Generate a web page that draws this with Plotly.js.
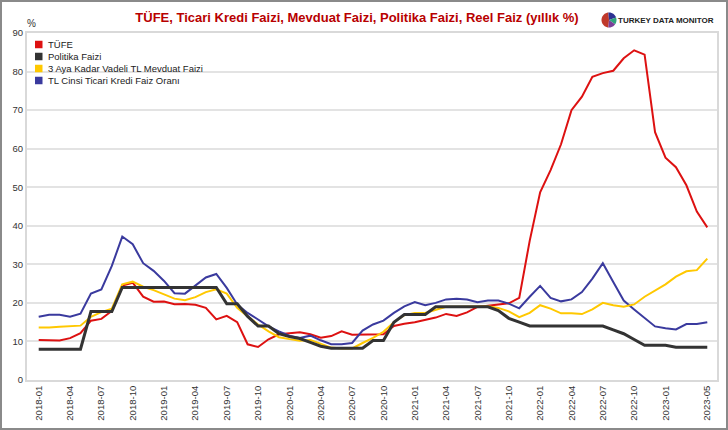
<!DOCTYPE html>
<html>
<head>
<meta charset="utf-8">
<script src="https://cdn.plot.ly/plotly-3.0.1.min.js"></script>
<style>
  body { margin: 0; background: #fff; }
  #wrap { width: 724px; height: 426px; border: 2px solid #8a8a8a; }
</style>
</head>
<body>
<div id="wrap"><div id="chart" style="width:724px;height:426px;"></div></div>
<script>
// monthly categories 2018-01 .. 2023-05
var months = [];
for (var y = 2018; y <= 2023; y++) {
  for (var m = 1; m <= 12; m++) {
    if (y == 2023 && m > 5) break;
    months.push(y + '-' + (m < 10 ? '0' + m : m));
  }
}

var tufe = [
  10.35, 10.26, 10.23, 10.85, 12.15, 15.39, 15.85, 17.90, 24.52, 25.24, 21.62, 20.30,
  20.35, 19.67, 19.71, 19.50, 18.71, 15.72, 16.65, 15.01, 9.26, 8.55, 10.56, 11.84,
  12.15, 12.37, 11.86, 10.94, 11.39, 12.62, 11.76, 11.77, 11.75, 11.89, 14.03, 14.60,
  14.97, 15.61, 16.19, 17.14, 16.59, 17.53, 18.95, 19.25, 19.58, 19.89, 21.31, 36.08,
  48.69, 54.44, 61.14, 69.97, 73.50, 78.62, 79.60, 80.21, 83.45, 85.51, 84.39, 64.27,
  57.68, 55.18, 50.51, 43.68, 39.59
];

var politika = [
  8, 8, 8, 8, 8, 17.75, 17.75, 17.75, 24, 24, 24, 24,
  24, 24, 24, 24, 24, 24, 19.75, 19.75, 16.5, 14, 14, 12,
  11.25, 10.75, 9.75, 8.75, 8.25, 8.25, 8.25, 8.25, 10.25, 10.25, 15, 17,
  17, 17, 19, 19, 19, 19, 19, 19, 18, 16, 15, 14,
  14, 14, 14, 14, 14, 14, 14, 13, 12, 10.5, 9, 9,
  9, 8.5, 8.5, 8.5, 8.5
];

var mevduat = [
  13.6, 13.6, 13.8, 13.9, 14.1, 16.4, 17.6, 18.5, 24.8, 25.5, 24.2, 23.3,
  22.2, 21.1, 20.7, 21.5, 22.8, 23.5, 22.4, 18.7, 16.5, 14.4, 12.6, 11.1,
  10.6, 10.2, 10.4, 9.4, 8.4, 8.2, 8.2, 9.6, 10.9, 12.5, 15.0, 16.8,
  17.4, 17.4, 18.1, 19.0, 19.0, 19.0, 19.0, 19.1, 18.7, 17.8, 16.3, 17.4,
  19.4, 18.5, 17.3, 17.3, 17.1, 18.3, 20.0, 19.4, 19.0, 19.6, 21.6, 23.3,
  24.8, 26.8, 28.2, 28.5, 31.5
];

var kredi = [
  16.4, 16.9, 16.9, 16.4, 17.2, 22.4, 23.5, 29.6, 37.2, 35.2, 30.3, 28.3,
  25.7, 22.5, 22.4, 24.4, 26.6, 27.5, 23.9, 19.6, 17.4, 15.7, 13.9, 12.6,
  11.5, 10.9, 11.5, 10.3, 9.3, 9.3, 9.6, 12.8, 14.4, 15.4, 17.4, 19.1,
  20.2, 19.4, 20.0, 20.9, 21.1, 20.9, 20.2, 20.6, 20.6, 19.8, 18.6, 21.6,
  24.4, 21.3, 20.4, 20.9, 22.8, 26.3, 30.3, 25.4, 20.6, 18.3, 16.1, 13.9,
  13.4, 13.1, 14.5, 14.5, 15.0
];

var seriesNames = ['TÜFE', 'Politika Faizi', '3 Aya Kadar Vadeli TL Mevduat Faizi', 'TL Cinsi Ticari Kredi Faiz Oranı'];
var seriesData = [tufe, politika, mevduat, kredi];
var colors = ['#dd1111', '#333333', '#ffc800', '#3a3a9e'];
var widths = [2, 3, 2, 2];

var tickvals = months.filter(function (d, i) { return i % 3 == 0 && i <= 60; });
tickvals.push(months[months.length - 1]);

var font = 'Arial, "Liberation Sans", sans-serif';

// draw order: red, blue, yellow, black on top
var order = [0, 3, 2, 1];
var data = order.map(function (k) {
  return {
    x: months,
    y: seriesData[k],
    name: seriesNames[k],
    type: 'scatter',
    mode: 'lines',
    line: {color: colors[k], width: widths[k]},
    hoverinfo: 'x+y+name'
  };
});

// plot area in pixels (inside the 724x426 plot div)
var L = 25, T = 31, W = 690, H = 347;
function px(x) { return (x - L) / W; }
function py(y) { return (T + H - y) / H; }

var shapes = [];
var annotations = [];

// legend drawn inside the plot, top left
seriesNames.forEach(function (name, k) {
  var cy = 42.5 + k * 12;
  shapes.push({
    type: 'rect', xref: 'paper', yref: 'paper',
    x0: px(33), x1: px(40.5), y0: py(cy - 3.75), y1: py(cy + 3.75),
    fillcolor: colors[k], line: {width: 0}
  });
  annotations.push({
    xref: 'paper', yref: 'paper', x: px(43.5), y: py(cy),
    xanchor: 'left', yanchor: 'middle', showarrow: false,
    text: name, font: {family: font, size: 9.5, color: '#222'}
  });
});

annotations.push({
  xref: 'paper', yref: 'paper', x: px(29), y: py(22),
  xanchor: 'center', yanchor: 'middle', showarrow: false,
  text: '%', font: {family: font, size: 10, color: '#333'}
});

// logo: small pie + name
var logoSlices = [
  {a0: 95, a1: 265, c: '#c0392b'},
  {a0: 20, a1: 95, c: '#2e3192'},
  {a0: -35, a1: 20, c: '#2ea37a'},
  {a0: -95, a1: -35, c: '#7b3f98'}
];
var lcx = 607, lcy = 18, lr = 7.5;
logoSlices.forEach(function (s) {
  var p = 'M ' + px(lcx) + ',' + py(lcy);
  for (var a = s.a0; a <= s.a1; a += 5) {
    var r = a * Math.PI / 180;
    p += ' L ' + px(lcx + lr * Math.cos(r)) + ',' + py(lcy - lr * Math.sin(r));
  }
  p += ' Z';
  shapes.push({type: 'path', xref: 'paper', yref: 'paper', path: p,
    fillcolor: s.c, line: {width: 0}});
});
annotations.push({
  xref: 'paper', yref: 'paper', x: px(614), y: py(18),
  xanchor: 'left', yanchor: 'middle', showarrow: false,
  text: '<b>TURKEY DATA MONITOR</b>',
  font: {family: font, size: 8, color: '#222'}
});

var layout = {
  width: 724,
  height: 426,
  margin: {l: L, r: 724 - L - W, t: T, b: 426 - T - H},
  paper_bgcolor: '#fff',
  plot_bgcolor: '#fff',
  showlegend: false,
  font: {family: font, color: '#333'},
  title: {
    text: '<b>TÜFE, Ticari Kredi Faizi, Mevduat Faizi, Politika Faizi, Reel Faiz (yıllık %)</b>',
    font: {family: font, size: 13, color: '#b80000'},
    x: 355 / 724, xanchor: 'center',
    y: 1 - 15 / 426, yanchor: 'middle'
  },
  xaxis: {
    type: 'category',
    range: [-1.12, 64.93],
    tickmode: 'array',
    tickvals: tickvals,
    ticktext: tickvals,
    tickangle: -90,
    ticks: '',
    showgrid: false,
    showline: true,
    mirror: true,
    linecolor: '#d9d9d9',
    linewidth: 2,
    tickfont: {family: font, size: 9.5, color: '#333'},
    zeroline: false
  },
  yaxis: {
    range: [0, 90],
    dtick: 10,
    ticks: '',
    showgrid: true,
    gridcolor: '#e3e3e3',
    gridwidth: 1.5,
    showline: true,
    mirror: true,
    linecolor: '#d9d9d9',
    linewidth: 2,
    zeroline: false,
    tickfont: {family: font, size: 9.5, color: '#333'}
  },
  shapes: shapes,
  annotations: annotations
};

var config = {responsive: false, displayModeBar: false, staticPlot: false};

Plotly.newPlot('chart', data, layout, config);
</script>
</body>
</html>
